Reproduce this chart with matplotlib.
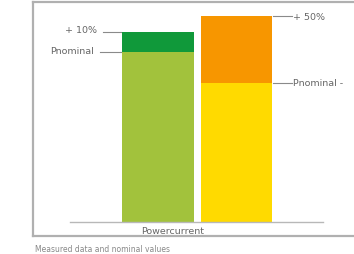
import matplotlib
matplotlib.use("Agg")
import matplotlib.pyplot as plt

# bar data
categories = ["A", "B"]
nominal = [100, 82]
extra = [12, 39]
base_colors = ["#a2c23c", "#ffda00"]
top_colors = ["#10993a", "#f79600"]
extra_labels = ["+ 10%", "+ 50%"]
nominal_label = "Pnominal"
xlabel = "Powercurrent"
caption = "Measured data and nominal values"

fig = plt.figure(figsize=(3.54, 2.55), dpi=100)
ax = fig.add_axes([33 / 354, 18 / 255, 330 / 354, 234 / 255])

pos = list(range(len(categories)))
ax.bar(pos, nominal, width=0.91, color=base_colors, zorder=2)
ax.bar(pos, extra, width=0.91, bottom=nominal, color=top_colors, zorder=2)

ax.set_xlim(-1.588, -1.588 + 330 / 78.7)
ax.set_ylim(-8.4, 129.5)

# baseline
ax.plot([-1.12, 2.10], [0, 0], color="#b8b8b8", lw=1.0, zorder=3)

# leader lines and labels
gray = "#666666"
lc = "#8a8a8a"
fs = 6.8
tops = [n + e for n, e in zip(nominal, extra)]
# left bar: labels on the left
ax.plot([-0.70, -0.47], [tops[0], tops[0]], color=lc, lw=0.8)
ax.plot([-0.74, -0.47], [nominal[0], nominal[0]], color=lc, lw=0.8)
ax.text(-0.77, tops[0] + 1, extra_labels[0], ha="right", va="center", fontsize=fs, color=gray)
ax.text(-0.82, nominal[0] + 1, nominal_label, ha="right", va="center", fontsize=fs, color=gray)
# right bar: labels on the right
ax.plot([1.46, 1.70], [tops[1], tops[1]], color=lc, lw=0.8)
ax.plot([1.46, 1.70], [nominal[1], nominal[1]], color=lc, lw=0.8)
ax.text(1.72, tops[1], extra_labels[1], ha="left", va="center", fontsize=fs, color=gray)
ax.text(1.72, nominal[1], nominal_label + " -", ha="left", va="center", fontsize=fs, color=gray)

ax.text(0.19, -5, xlabel, ha="center", va="center", fontsize=fs, color=gray)

ax.set_xticks([])
ax.set_yticks([])
for s in ax.spines.values():
    s.set_color("#b0b0b0")
    s.set_linewidth(1.6)

fig.text(35 / 354, 1 - 250 / 255, caption, ha="left", va="center", fontsize=5.5, color="#888888")

fig.savefig("out.png", dpi=100)
